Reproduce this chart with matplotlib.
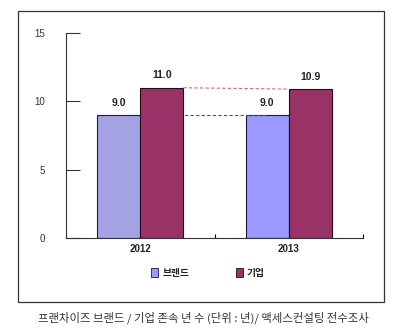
import matplotlib
matplotlib.use("Agg")
import matplotlib.pyplot as plt
from matplotlib.patches import Rectangle

plt.rcParams['font.family'] = ['Liberation Sans', 'Noto Sans CJK KR', 'DejaVu Sans']

years = ['2012', '2013']
brand = [9.0, 9.0]
company = [11.0, 10.9]
series_names = ['브랜드', '기업']
caption = '프랜차이즈 브랜드 / 기업 존속 년 수 (단위 : 년)/ 맥세스컨설팅 전수조사'

brand_colors = ['#A3A3E3', '#9999FF']
company_color = '#993366'

fig = plt.figure(figsize=(4.0, 3.31), dpi=100)

# outer box around the chart area
fig.patches.append(Rectangle((0.045, 0.088), 0.915, 0.879, transform=fig.transFigure,
                             fill=False, edgecolor='#333333', linewidth=0.9))

ax = fig.add_axes([0.165, 0.281, 0.7425, 0.619])
x = range(len(years))
w = 0.29
b1 = ax.bar([i - w / 2 for i in x], brand, w, color=brand_colors,
            edgecolor='#1a1a40', linewidth=0.8, zorder=2)
b2 = ax.bar([i + w / 2 for i in x], company, w, color=company_color,
            edgecolor='#2a0a18', linewidth=0.8, zorder=2)

# dashed links between the two years
ax.plot([0, 1 - w / 2], [brand[0], brand[1]],
        ls=(0, (3, 2)), color='#4444cc', lw=0.8, zorder=3)
ax.plot([0 + w, 1], [company[0], company[1]],
        ls=(0, (3, 2)), color='#dd6677', lw=0.8, zorder=3)

for bars, vals in ((b1, brand), (b2, company)):
    for r, v in zip(bars, vals):
        ax.text(r.get_x() + r.get_width() / 2, v + 0.55, f'{v:.1f}',
                ha='center', va='bottom', fontsize=7.5, fontweight='bold', color='#222222')

ax.set_xlim(-0.5, 1.5)
ax.set_ylim(0, 15)
ax.set_yticks([0, 5, 10, 15])
ax.tick_params(axis='y', direction='in', length=10, width=0.8, labelsize=7,
               colors='#333333', pad=15)
ax.set_xticks(list(x))
ax.set_xticklabels(years, fontsize=7, fontweight='bold', color='#222222')
ax.tick_params(axis='x', length=0, pad=4)
ax.set_xticks([-0.5, 0.5, 1.5], minor=True)
ax.tick_params(axis='x', which='minor', direction='in', length=3, width=0.8)
for s in ('top', 'right'):
    ax.spines[s].set_visible(False)
for s in ('left', 'bottom'):
    ax.spines[s].set_color('#333333')
    ax.spines[s].set_linewidth(0.8)

# legend
handles = [Rectangle((0, 0), 1, 1, facecolor='#9999FF', edgecolor='#1a1a40', lw=0.6),
           Rectangle((0, 0), 1, 1, facecolor=company_color, edgecolor='#2a0a18', lw=0.6)]
leg = fig.legend(handles, series_names, loc='center', bbox_to_anchor=(0.52, 0.175),
                 ncol=2, frameon=False, fontsize=7, handlelength=0.7, handleheight=1.0,
                 columnspacing=4.8, handletextpad=0.4)
for t in leg.get_texts():
    t.set_fontweight('bold')
    t.set_color('#222222')

fig.text(0.508, 0.04, caption, ha='center', va='center', fontsize=8.2,
         color='#333333', family=['Noto Sans CJK KR', 'DejaVu Sans'])

fig.savefig('out.png', dpi=100)
